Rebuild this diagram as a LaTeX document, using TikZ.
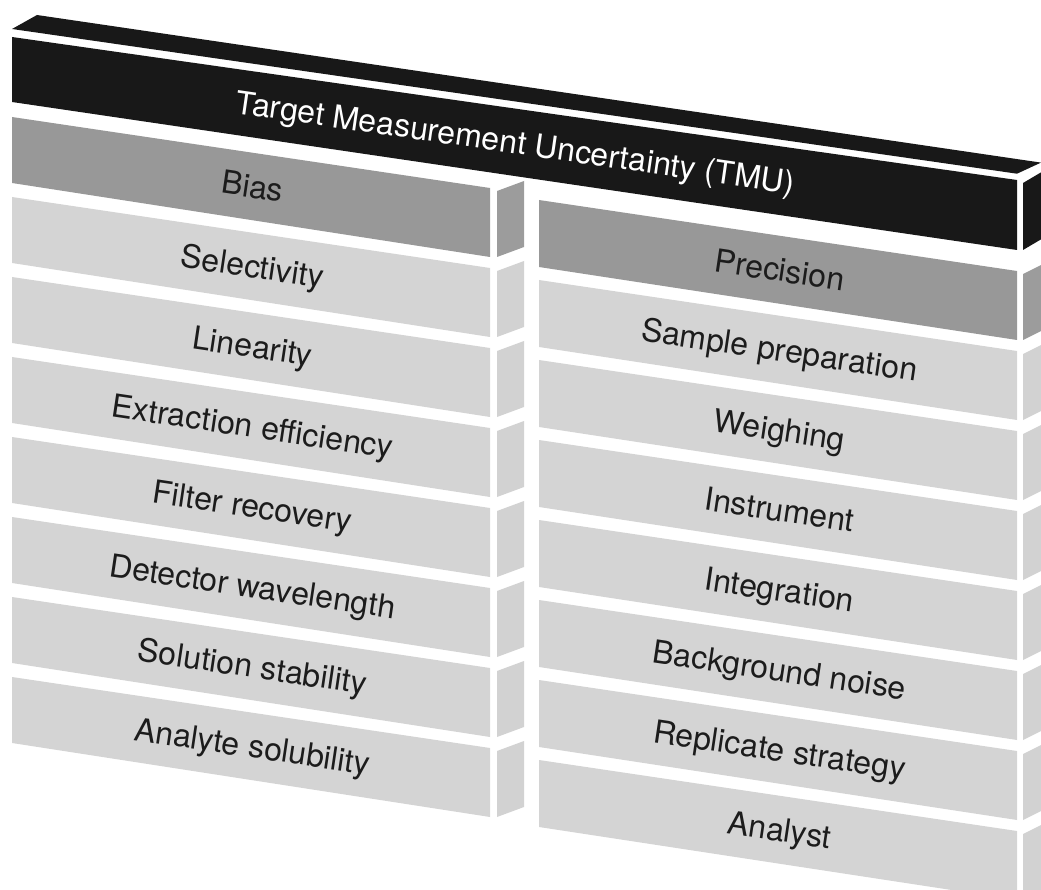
\documentclass[tikz,border=0pt]{standalone}
\usepackage{fontspec}
\setmainfont{TeX Gyre Heros}
\definecolor{barblack}{HTML}{181818}
\definecolor{headgray}{HTML}{989898}
\definecolor{headside}{HTML}{9C9C9C}
\definecolor{rowgray}{HTML}{D4D4D4}
\definecolor{rowside}{HTML}{D2D2D2}
\definecolor{txtcol}{HTML}{1C1C1C}
\begin{document}
\begin{tikzpicture}[x=1pt,y=-1pt,
  lbl/.style={anchor=base, inner sep=0pt, text=txtcol, font=\fontsize{32}{38}\selectfont, rotate=-8.45},
  ttl/.style={anchor=base, inner sep=0pt, text=white, font=\fontsize{32}{38}\selectfont, rotate=-8.25}]
\useasboundingbox (0,0) rectangle (1041,890);
\clip (0,0) rectangle (1041,890);
% black bar
\fill[barblack] (12,29) -- (37,15) -- (1041,162.6) -- (1017,173.7) -- cycle;
\fill[barblack] (12,37) -- (1017,180) -- (1017,250) -- (12,102) -- cycle;
\fill[barblack] (1023,183) -- (1045,170) -- (1045,237) -- (1023,250) -- cycle;
\node[ttl] (tmu) at (514,153.5) {Target Measurement Uncertainty (TMU)};
% left column
\foreach \lab [count=\i from 0] in {Bias, Selectivity, Linearity, Extraction efficiency, Filter recovery, Detector wavelength, Solution stability, Analyte solubility}{
  \pgfmathsetmacro{\y}{117+80*\i}
  \ifnum\i=0 \def\fc{headgray}\def\sc{headside}\else\def\fc{rowgray}\def\sc{rowside}\fi
  \fill[\fc] (12,\y) -- (490,\y+71) -- (490,\y+140) -- (12,\y+66) -- cycle;
  \fill[\sc] (497,\y+74) -- (524,\y+64) -- (524,\y+130) -- (497,\y+140) -- cycle;
  \node[lbl] (L\i) at (251,\y+80.5) {\lab};
}
% right column
\foreach \lab [count=\j from 0] in {Precision, Sample preparation, Weighing, Instrument, Integration, Background noise, Replicate strategy, Analyst}{
  \pgfmathsetmacro{\z}{200+80*\j}
  \ifnum\j=0 \def\fc{headgray}\def\sc{headside}\else\def\fc{rowgray}\def\sc{rowside}\fi
  \fill[\fc] (539,\z) -- (1017,\z+71) -- (1017,\z+140) -- (539,\z+67) -- cycle;
  \fill[\sc] (1023,\z+74) -- (1045,\z+63) -- (1045,\z+129) -- (1023,\z+140) -- cycle;
  \node[lbl] (R\j) at (778,\z+81) {\lab};
}
\end{tikzpicture}
\end{document}
